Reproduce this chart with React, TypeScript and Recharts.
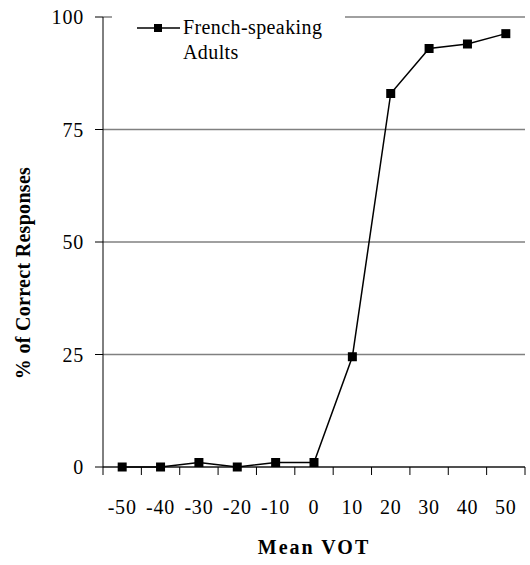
import { LineChart, Line, XAxis, YAxis, CartesianGrid } from 'recharts'

const VOT = [-50, -40, -30, -20, -10, 0, 10, 20, 30, 40, 50]
const CORRECT = [0, 0, 1, 0, 1, 1, 24.5, 83, 93, 94, 96.3]
const Y_TICKS = [0, 25, 50, 75, 100]
const SERIES_LINES = ['French-speaking', 'Adults']

const data = VOT.map((v, i) => ({ vot: v, pct: CORRECT[i] }))

// category boundaries get tick marks, category centres get labels
const boundaries = [...VOT.map((v) => v - 5), VOT[VOT.length - 1] + 5]
const xTicks = [...boundaries, ...VOT].sort((a, b) => a - b)

const FONT = '"Liberation Serif", "Times New Roman", serif'

const XTick = (props: any) => {
  const { x, y, payload } = props
  if (VOT.includes(payload.value)) {
    return (
      <text x={x} y={y + 47} textAnchor="middle" fontSize={20} letterSpacing={0.8} fontFamily={FONT} fill="#000">
        {payload.value}
      </text>
    )
  }
  return <line x1={x} y1={y} x2={x} y2={y + 8} stroke="#000" strokeWidth={1} />
}

const SquareDot = (props: any) => {
  const { cx, cy } = props
  return <rect x={cx - 4.5} y={cy - 4.5} width={9} height={9} fill="#000" />
}

const YTitle = (props: any) => {
  const { viewBox } = props
  const cy = viewBox.y + viewBox.height / 2 + 31
  return (
    <text
      x={23}
      y={cy}
      transform={`rotate(-90, 23, ${cy})`}
      textAnchor="middle"
      dominantBaseline="central"
      fontSize={20}
      letterSpacing={0.3}
      fontWeight="bold"
      fontFamily={FONT}
      fill="#000"
    >
      % of Correct Responses
    </text>
  )
}

export default function App() {
  return (
    <div style={{ position: 'absolute', left: 0, top: 0, width: 530, height: 565, background: '#fff' }}>
      <LineChart width={530} height={565} data={data} margin={{ top: 17, right: 5, bottom: 0, left: 0 }}>
        <CartesianGrid vertical={false} stroke="#808080" strokeWidth={1.3} />
        <XAxis
          dataKey="vot"
          type="number"
          domain={[-55, 55]}
          ticks={xTicks}
          interval={0}
          tick={<XTick />}
          tickLine={false}
          tickSize={0}
          tickMargin={0}
          axisLine={{ stroke: '#000' }}
          height={98}
          label={{
            value: 'Mean VOT',
            position: 'insideBottom',
            offset: 11,
            fontSize: 20,
            letterSpacing: 2,
            fontWeight: 'bold',
            fontFamily: FONT,
            fill: '#000'
          }}
        />
        <YAxis
          domain={[0, 100]}
          ticks={Y_TICKS}
          width={103}
          tickSize={8}
          tickMargin={11}
          tickLine={{ stroke: '#000' }}
          axisLine={{ stroke: '#000' }}
          tick={{ fontSize: 20, letterSpacing: 0.8, fontFamily: FONT, fill: '#000' }}
          label={<YTitle />}
        />
        <Line
          dataKey="pct"
          stroke="#000"
          strokeWidth={1.5}
          dot={<SquareDot />}
          activeDot={false}
          isAnimationActive={false}
        />
      </LineChart>
      <div
        style={{
          position: 'absolute',
          left: 112,
          top: 15,
          width: 233,
          height: 50,
          background: '#fff',
          display: 'flex',
          alignItems: 'flex-start',
          paddingLeft: 25,
          boxSizing: 'border-box',
          fontFamily: FONT,
          fontSize: 20,
          letterSpacing: 0.4,
          lineHeight: '25px',
          color: '#000'
        }}
      >
        <svg width={43} height={25} style={{ flex: 'none' }}>
          <line x1={0} y1={13} x2={43} y2={13} stroke="#000" strokeWidth={1.5} />
          <rect x={17} y={9} width={8} height={8} fill="#000" />
        </svg>
        <div style={{ marginLeft: 3 }}>
          {SERIES_LINES[0]}
          <br />
          {SERIES_LINES[1]}
        </div>
      </div>
    </div>
  )
}
